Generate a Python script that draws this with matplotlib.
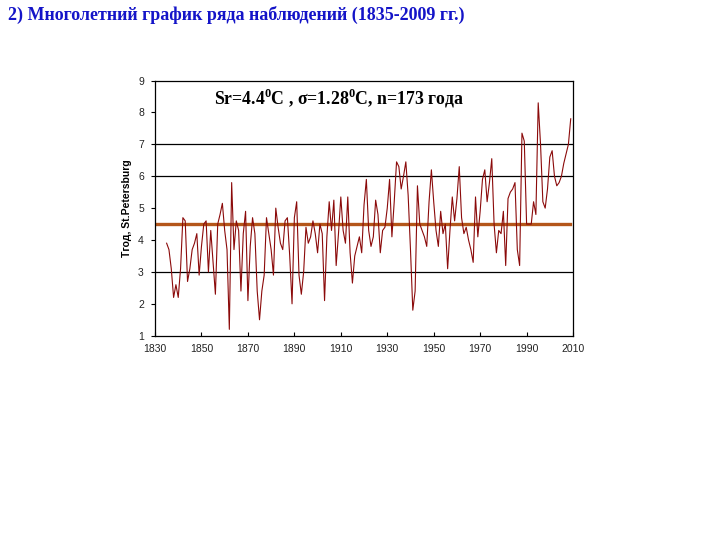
import numpy as np
from matplotlib import pyplot as plt

# yearly mean temperature, St.Petersburg
years = np.arange(1835, 2010)
temps = [
    3.9, 3.7, 3.1, 2.2, 2.6, 2.2, 3.1, 4.7, 4.6, 2.7,   # 1835-1844
    3.1, 3.7, 3.9, 4.2, 2.9, 3.8, 4.5, 4.6, 3.0, 4.3,   # 1845-1854
    3.3, 2.3, 4.5, 4.8, 5.15, 4.3, 3.7, 1.2, 5.8, 3.7,  # 1855-1864
    4.6, 4.3, 2.4, 4.2, 4.9, 2.1, 3.8, 4.7, 4.2, 2.4,   # 1865-1874
    1.5, 2.4, 2.9, 4.7, 4.2, 3.7, 2.9, 5.0, 4.4, 3.9,   # 1875-1884
    3.7, 4.6, 4.7, 3.5, 2.0, 4.7, 5.2, 2.9, 2.3, 3.0,   # 1885-1894
    4.4, 3.9, 4.1, 4.6, 4.2, 3.6, 4.5, 4.2, 2.1, 4.1,   # 1895-1904
    5.2, 4.3, 5.25, 3.2, 4.2, 5.35, 4.3, 3.9, 5.35, 3.6,  # 1905-1914
    2.65, 3.5, 3.8, 4.1, 3.6, 5.1, 5.9, 4.3, 3.8, 4.1,  # 1915-1924
    5.25, 4.8, 3.6, 4.3, 4.4, 5.0, 5.9, 4.1, 5.2, 6.45,  # 1925-1934
    6.3, 5.6, 6.0, 6.45, 5.4, 3.7, 1.8, 2.4, 5.7, 4.5,  # 1935-1944
    4.3, 4.1, 3.8, 5.2, 6.2, 5.2, 4.3, 3.8, 4.9, 4.2,   # 1945-1954
    4.5, 3.1, 4.3, 5.35, 4.6, 5.3, 6.3, 4.7, 4.2, 4.4,  # 1955-1964
    4.0, 3.7, 3.3, 5.35, 4.1, 4.9, 5.9, 6.2, 5.2, 5.8,  # 1965-1974
    6.55, 4.5, 3.6, 4.3, 4.2, 4.9, 3.2, 5.3, 5.5, 5.6,  # 1975-1984
    5.8, 3.7, 3.2, 7.35, 7.1, 4.5, 4.5, 4.5, 5.2, 4.8,  # 1985-1994
    8.3, 7.0, 5.2, 5.0, 5.6, 6.6, 6.8, 6.0, 5.7, 5.8,   # 1995-2004
    6.0, 6.4, 6.7, 7.0, 7.8,                            # 2005-2009
]
mean_value = 4.5
mean_span = [1830, 2008.5]
grid_levels = [3, 6, 7]
x_ticks = list(range(1830, 2011, 20))
y_ticks = list(range(1, 10))

title = "2) Многолетний график ряда наблюдений (1835-2009 гг.)"
stats_text = "Sr=4.4$^{0}$C , σ=1.28$^{0}$C, n=173 года"
y_label = "Tгод, St.Petersburg"

plt.rcParams['mathtext.fontset'] = 'custom'
plt.rcParams['mathtext.rm'] = 'Liberation Serif:bold'
plt.rcParams['mathtext.bf'] = 'Liberation Serif:bold'

fig = plt.figure(figsize=(7.2, 5.4), dpi=100)
fig.text(0.011, 0.972, title, fontsize=13, fontweight='bold',
         family='Liberation Serif', color='#1414c8', va='center', ha='left')

ax = fig.add_axes([0.2153, 0.3783, 0.5806, 0.4726])
for lvl in grid_levels:
    ax.axhline(lvl, color='black', linewidth=0.9, zorder=1)
ax.plot(mean_span, [mean_value, mean_value], color='#b4561a', linewidth=2.4, zorder=2)
ax.plot(years, temps, color='#8b0a0a', linewidth=0.8, zorder=3)

ax.set_xlim(1830, 2010)
ax.set_ylim(1, 9)
ax.set_xticks(x_ticks)
ax.set_yticks(y_ticks)
ax.tick_params(axis='x', direction='in', length=3, labelsize=7.5, pad=6)
ax.tick_params(axis='y', direction='out', length=3, labelsize=7.5, pad=5)
for lab in ax.get_xticklabels() + ax.get_yticklabels():
    lab.set_family('Liberation Sans')
    lab.set_color('#222222')
for s in ax.spines.values():
    s.set_linewidth(0.9)
ax.set_ylabel(y_label, fontsize=7.5, family='Liberation Sans', fontweight='bold', labelpad=4)

ax.text(0.14, 0.93, stats_text, transform=ax.transAxes, fontsize=12.8,
        fontweight='bold', family='Liberation Serif', va='center', ha='left')

fig.savefig('out.png', dpi=100)
